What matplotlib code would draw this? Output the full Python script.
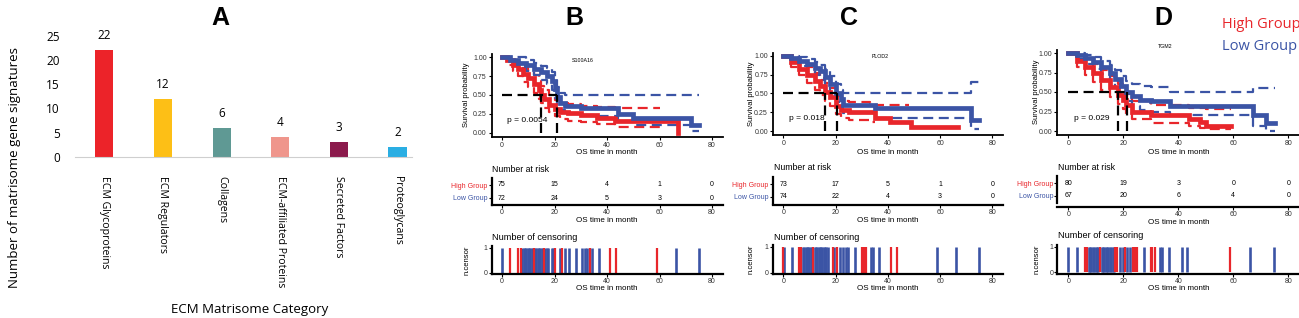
import numpy as np
import matplotlib
matplotlib.use("Agg")
import matplotlib.pyplot as plt

W, H = 1299, 318
RED = '#e8262b'
BLUE = '#3b54a5'
KMFONT = 'Liberation Sans'

# ---- panel A data
categories = ['ECM Glycoproteins', 'ECM Regulators', 'Collagens',
              'ECM-affiliated Proteins', 'Secreted Factors', 'Proteoglycans']
counts = [22, 12, 6, 4, 3, 2]
bar_colors = ['#ec2329', '#fdbf16', '#5f9994', '#ef968c', '#8b1a4c', '#2aaee3']

# ---- survival curves (time, survival, upper CI, lower CI)
b_high_t = [0, 2, 4, 6, 8, 10, 12, 14, 15, 16, 18, 20, 22, 25, 30, 36, 43, 60, 67]
b_high_s = [1.0, 0.96, 0.9, 0.85, 0.78, 0.72, 0.65, 0.57, 0.5, 0.45, 0.37, 0.32, 0.28, 0.26, 0.24, 0.2, 0.15, 0.15, 0.0]
b_high_up = [1.0, 1.0, 0.97, 0.93, 0.88, 0.82, 0.76, 0.68, 0.62, 0.57, 0.5, 0.44, 0.4, 0.38, 0.36, 0.34, 0.33, np.nan, np.nan]
b_high_lo = [1.0, 0.9, 0.82, 0.75, 0.67, 0.6, 0.53, 0.45, 0.39, 0.33, 0.27, 0.22, 0.18, 0.16, 0.14, 0.11, 0.07, np.nan, np.nan]
b_low_t = [0, 3, 6, 9, 12, 15, 17, 19, 20, 21, 22, 24, 30, 35, 44, 50, 72, 75]
b_low_s = [1.0, 0.97, 0.93, 0.9, 0.85, 0.8, 0.75, 0.68, 0.58, 0.47, 0.4, 0.35, 0.33, 0.33, 0.25, 0.2, 0.1, 0.1]
b_low_up = [1.0, 1.0, 1.0, 0.97, 0.93, 0.89, 0.86, 0.8, 0.72, 0.6, 0.53, 0.5, 0.5, 0.5, 0.5, 0.5, 0.5, 0.5]
b_low_lo = [1.0, 0.92, 0.86, 0.82, 0.76, 0.7, 0.65, 0.57, 0.46, 0.36, 0.3, 0.25, 0.23, 0.22, 0.15, 0.1, 0.02, 0.02]

c_high_t = [0, 3, 6, 9, 12, 14, 16, 18, 20, 22, 25, 33, 35, 41, 48, 49, 67]
c_high_s = [1.0, 0.92, 0.83, 0.75, 0.66, 0.6, 0.52, 0.45, 0.33, 0.28, 0.25, 0.25, 0.17, 0.12, 0.12, 0.05, 0.05]
c_high_up = [1.0, 0.98, 0.92, 0.85, 0.77, 0.71, 0.64, 0.57, 0.46, 0.4, 0.38, 0.37, 0.35, 0.35, np.nan, np.nan, np.nan]
c_high_lo = [1.0, 0.85, 0.74, 0.64, 0.55, 0.48, 0.4, 0.33, 0.22, 0.17, 0.15, 0.12, np.nan, np.nan, np.nan, np.nan, np.nan]
c_low_t = [0, 3, 6, 9, 12, 14, 16, 18, 20, 22, 23, 35, 72, 75]
c_low_s = [1.0, 0.97, 0.93, 0.89, 0.84, 0.8, 0.72, 0.62, 0.5, 0.42, 0.35, 0.3, 0.15, 0.15]
c_low_up = [1.0, 1.0, 0.98, 0.95, 0.92, 0.88, 0.82, 0.73, 0.62, 0.55, 0.5, 0.5, 0.65, 0.65]
c_low_lo = [1.0, 0.92, 0.86, 0.8, 0.74, 0.68, 0.6, 0.5, 0.38, 0.3, 0.24, 0.17, 0.03, 0.03]

d_high_t = [0, 3, 6, 9, 12, 15, 18, 20, 21, 23, 30, 44, 48, 50, 59]
d_high_s = [1.0, 0.9, 0.82, 0.74, 0.65, 0.56, 0.46, 0.4, 0.33, 0.25, 0.2, 0.16, 0.12, 0.07, 0.07]
d_high_up = [1.0, 0.98, 0.93, 0.86, 0.78, 0.7, 0.6, 0.54, 0.47, 0.38, 0.33, 0.3, 0.29, 0.28, 0.28]
d_high_lo = [1.0, 0.82, 0.72, 0.63, 0.53, 0.43, 0.34, 0.28, 0.22, 0.15, 0.1, 0.06, 0.04, 0.03, 0.03]
d_low_t = [0, 3, 6, 9, 12, 15, 17, 19, 21, 23, 26, 30, 37, 67, 72, 75]
d_low_s = [1.0, 0.97, 0.93, 0.88, 0.82, 0.75, 0.67, 0.58, 0.5, 0.45, 0.4, 0.38, 0.32, 0.2, 0.1, 0.1]
d_low_up = [1.0, 1.0, 0.98, 0.95, 0.9, 0.84, 0.78, 0.7, 0.64, 0.6, 0.58, 0.56, 0.5, 0.55, 0.55, np.nan]
d_low_lo = [1.0, 0.92, 0.86, 0.8, 0.73, 0.64, 0.55, 0.46, 0.38, 0.32, 0.27, 0.25, 0.2, 0.07, 0.0, 0.0]

# medians (high, low)
b_median = [15, 21]
c_median = [16, 20.5]
d_median = [18, 21.5]

# number at risk at 0, 20, 40, 60, 80
risk_times = [0, 20, 40, 60, 80]
b_risk_high = [75, 15, 4, 1, 0]
b_risk_low = [72, 24, 5, 3, 0]
c_risk_high = [73, 17, 5, 1, 0]
c_risk_low = [74, 22, 4, 3, 0]
d_risk_high = [80, 19, 3, 0, 0]
d_risk_low = [67, 20, 6, 4, 0]

# censoring times
b_cens_high = [3.0, 6.2, 7.1, 12.2, 16.0, 20.3, 22.9, 33.6, 41.3, 43.5, 59.0]
b_cens_low = [0.0, 7.8, 8.3, 8.8, 9.3, 9.8, 10.3, 10.8, 11.3, 11.8, 12.6, 13.1, 13.6, 14.1, 14.6,
              15.1, 15.6, 16.5, 17.0, 17.6, 18.9, 19.6, 22.2, 24.1, 25.4, 28.0, 30.5, 31.7, 32.4,
              34.3, 36.8, 66.4, 75.0]
c_cens_high = [0.0, 6.1, 6.8, 11.5, 18.9, 20.4, 30.0, 31.0, 31.8, 41.3, 43.5]
c_cens_low = [0.2, 3.2, 7.5, 8.0, 8.5, 9.0, 9.5, 10.0, 10.5, 11.0, 12.0, 12.5, 13.0, 13.5, 14.0,
              14.5, 15.0, 15.5, 16.0, 16.5, 17.0, 19.5, 21.7, 23.0, 24.0, 24.9, 27.5, 33.5, 34.3,
              36.5, 59.0, 66.2, 75.0]
d_cens_high = [6.1, 6.7, 11.6, 17.0, 17.6, 20.6, 23.4, 24.2, 24.8, 29.9, 30.6, 31.5, 58.8]
d_cens_low = [0.0, 3.0, 7.4, 7.9, 8.4, 8.9, 9.4, 9.9, 10.4, 10.9, 12.1, 12.6, 13.1, 13.6, 14.1,
              14.6, 15.1, 15.6, 16.1, 16.6, 18.8, 19.8, 21.2, 22.4, 27.5, 33.3, 34.2, 36.6, 41.2,
              43.3, 66.0, 74.9]


fig = plt.figure(figsize=(W / 100, H / 100), dpi=100)


def add_ax(left, top, right, bottom):
    return fig.add_axes([left / W, 1 - bottom / H, (right - left) / W, (bottom - top) / H])


def ftext(x, y, s, **kw):
    fig.text(x / W, 1 - y / H, s, **kw)


# ================= panel A
axA = add_ax(75, 30, 412, 156.7)
xpos = np.arange(len(categories))
axA.bar(xpos, counts, width=0.31, color=bar_colors)
axA.set_xlim(-0.5, (412 - 104.2) / 58.66)
axA.set_ylim(0, 126.7 / 4.83)
for x, v in zip(xpos, counts):
    axA.annotate(str(v), (x, v), xytext=(0, 10.5), textcoords='offset points',
                 ha='center', va='center', fontsize=8.5, family='Open Sans')
axA.set_yticks([0, 5, 10, 15, 20, 25])
axA.set_xticks(xpos)
axA.set_xticklabels(categories, rotation=-90, fontsize=7.6, family='Open Sans')
for lab in axA.get_yticklabels():
    lab.set_fontsize(8.5)
    lab.set_family('Open Sans')
axA.tick_params(length=0, pad=11, axis='y')
axA.tick_params(length=0, pad=14, axis='x')
for s in ['top', 'right', 'left']:
    axA.spines[s].set_visible(False)
axA.spines['bottom'].set_color('#cfcfcf')
ftext(15, 168, 'Number of matrisome gene signatures', rotation=90, ha='center', va='center',
      fontsize=9.5, family='Open Sans')
ftext(250, 309, 'ECM Matrisome Category', ha='center', va='center', fontsize=9.5, family='Open Sans')
ftext(220, 18, 'A', ha='center', va='center', fontsize=18, fontweight='bold', family=KMFONT)

# ================= KM panels
panels = [
    dict(letter='B', gene='S100A16', p='p = 0.0054', x0=502, x80=712, y1=57.3, y0=132.7,
         high=(b_high_t, b_high_s, b_high_up, b_high_lo), low=(b_low_t, b_low_s, b_low_up, b_low_lo),
         med=b_median, rh=b_risk_high, rl=b_risk_low, rows=(185, 198, 205), cy=(247.7, 272.7),
         ch=b_cens_high, cl=b_cens_low, ylab_x=467, gene_xy=(583, 60), letter_x=574,
         risk_title_y=169, cens_title_y=237),
    dict(letter='C', gene='PLOD2', p='p = 0.018', x0=783.3, x80=992.3, y1=55.7, y0=131,
         high=(c_high_t, c_high_s, c_high_up, c_high_lo), low=(c_low_t, c_low_s, c_low_up, c_low_lo),
         med=c_median, rh=c_risk_high, rl=c_risk_low, rows=(184.3, 196.7, 205), cy=(246.7, 272.7),
         ch=c_cens_high, cl=c_cens_low, ylab_x=751.5, gene_xy=(880, 57), letter_x=849,
         risk_title_y=168, cens_title_y=237),
    dict(letter='D', gene='TGM2', p='p = 0.029', x0=1068.3, x80=1288.3, y1=53, y0=131,
         high=(d_high_t, d_high_s, d_high_up, d_high_lo), low=(d_low_t, d_low_s, d_low_up, d_low_lo),
         med=d_median, rh=d_risk_high, rl=d_risk_low, rows=(183.3, 195.7, 206.7), cy=(246.7, 272.3),
         ch=d_cens_high, cl=d_cens_low, ylab_x=1037, gene_xy=(1165, 47), letter_x=1163,
         risk_title_y=167, cens_title_y=236),
]

for P in panels:
    sx = (P['x80'] - P['x0']) / 80.0
    left = P['x0'] - 4 * sx
    right = P['x0'] + 84 * sx
    sy = P['y0'] - P['y1']

    # --- survival
    ax = add_ax(left, P['y1'] - 0.04 * sy, right, P['y0'] + 0.055 * sy)
    for (t, s, up, lo), col in [(P['high'], RED), (P['low'], BLUE)]:
        ax.step(t, up, where='post', color=col, lw=1.6, ls=(0, (4.5, 2.5)))
        ax.step(t, lo, where='post', color=col, lw=1.6, ls=(0, (4.5, 2.5)))
    for (t, s, up, lo), col in [(P['high'], RED), (P['low'], BLUE)]:
        ax.step(t, s, where='post', color=col, lw=3.4, solid_joinstyle='miter')
    m1, m2 = P['med']
    ax.plot([0, m2], [0.5, 0.5], color='black', lw=1.6, ls=(0, (4.5, 2.5)))
    ax.plot([m1, m1], [0, 0.5], color='black', lw=1.6, ls=(0, (4.5, 2.5)))
    ax.plot([m2, m2], [0, 0.5], color='black', lw=1.6, ls=(0, (4.5, 2.5)))
    ax.text(2, 0.16, P['p'], fontsize=6, family=KMFONT, va='center')
    ax.set_xlim(-4, 84)
    ax.set_ylim(-0.055, 1.04)
    ax.set_xticks(risk_times)
    ax.set_yticks([0, 0.25, 0.5, 0.75, 1.0])
    ax.set_yticklabels(['0.00', '0.25', '0.50', '0.75', '1.00'])
    for s in ['top', 'right']:
        ax.spines[s].set_visible(False)
    for s in ['left', 'bottom']:
        ax.spines[s].set_linewidth(1.3)
    ax.tick_params(labelsize=5, length=2, width=0.8, pad=1.5, labelcolor='#333333')
    for lab in ax.get_xticklabels() + ax.get_yticklabels():
        lab.set_family(KMFONT)
    ftext(P['ylab_x'], (P['y1'] + P['y0']) / 2, 'Survival probability', rotation=90,
          ha='center', va='center', fontsize=5.5, family=KMFONT)
    ftext(P['x0'] + 40 * sx, 152, 'OS time in month', ha='center', va='center',
          fontsize=5.8, family=KMFONT)
    ftext(P['gene_xy'][0], P['gene_xy'][1], P['gene'], ha='center', va='center',
          fontsize=3.8, family=KMFONT)
    ftext(P['letter_x'], 18, P['letter'], ha='center', va='center', fontsize=18,
          fontweight='bold', family=KMFONT)

    # --- number at risk
    yh, yl, yb = P['rows']
    rs = yl - yh
    axr = add_ax(left, yh - 0.65 * rs, right, yb)
    axr.set_xlim(-4, 84)
    axr.set_ylim(1 - (yb - yl) / rs, 2.65)
    for t, n in zip(risk_times, P['rh']):
        axr.text(t, 2, str(n), ha='center', va='center', fontsize=5, family=KMFONT)
    for t, n in zip(risk_times, P['rl']):
        axr.text(t, 1, str(n), ha='center', va='center', fontsize=5, family=KMFONT)
    axr.set_yticks([2, 1])
    axr.set_yticklabels(['High Group', 'Low Group'], fontsize=5, family=KMFONT)
    axr.get_yticklabels()[0].set_color(RED)
    axr.get_yticklabels()[1].set_color(BLUE)
    axr.set_xticks(risk_times)
    axr.tick_params(labelsize=5, length=2, width=0.8, pad=1)
    for lab in axr.get_xticklabels():
        lab.set_family(KMFONT)
        lab.set_color('#333333')
    for s in ['top', 'right']:
        axr.spines[s].set_visible(False)
    for s in ['left', 'bottom']:
        axr.spines[s].set_linewidth(1.6)
    axr.spines['left'].set_bounds(0.45, 2.55)
    ftext(left + 1, P['risk_title_y'], 'Number at risk', ha='left', va='center',
          fontsize=6.3, family=KMFONT)
    ftext(P['x0'] + 40 * sx, yb + 16, 'OS time in month', ha='center', va='center',
          fontsize=5.8, family=KMFONT)

    # --- number of censoring
    c1, c0 = P['cy']
    cs = c0 - c1
    axc = add_ax(left, c1 - 0.06 * cs, right, c0 + 0.05 * cs)
    axc.vlines(P['cl'], 0, 1, color=BLUE, lw=1.9)
    axc.vlines(P['ch'], 0, 1, color=RED, lw=1.6)
    axc.set_xlim(-4, 84)
    axc.set_ylim(-0.05, 1.06)
    axc.set_xticks(risk_times)
    axc.set_yticks([0, 1])
    axc.tick_params(labelsize=5, length=2, width=0.8, pad=1, labelcolor='#333333')
    for lab in axc.get_xticklabels() + axc.get_yticklabels():
        lab.set_family(KMFONT)
    for s in ['top', 'right']:
        axc.spines[s].set_visible(False)
    for s in ['left', 'bottom']:
        axc.spines[s].set_linewidth(1.6)
    ftext(left + 1, P['cens_title_y'], 'Number of censoring', ha='left', va='center',
          fontsize=6.6, family=KMFONT)
    ftext(P['ylab_x'], (c1 + c0) / 2, 'n.censor', rotation=90, ha='center', va='center',
          fontsize=5.5, family=KMFONT)
    ftext(P['x0'] + 40 * sx, c0 + 16, 'OS time in month', ha='center', va='center',
          fontsize=5.8, family=KMFONT)

# legend
ftext(1222, 25, 'High Group', color=RED, ha='left', va='center', fontsize=10.5, family='Open Sans')
ftext(1222, 46, 'Low Group', color=BLUE, ha='left', va='center', fontsize=10.5, family='Open Sans')

fig.savefig('out.png', dpi=100)
